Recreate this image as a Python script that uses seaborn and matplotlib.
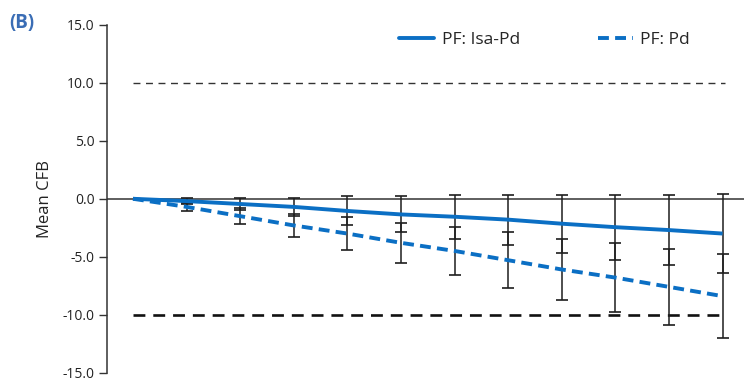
import numpy as np
import pandas as pd
import matplotlib
matplotlib.use("Agg")
import matplotlib.pyplot as plt
import seaborn as sns
from matplotlib.lines import Line2D

# Visit index along the x axis (0 = baseline)
visits = list(range(12))

# Mean change from baseline per arm
isa_pd_mean = [0.0, -0.2, -0.45, -0.7, -1.05, -1.35, -1.55, -1.8, -2.15, -2.45, -2.7, -3.0]
pd_mean = [0.0, -0.7, -1.5, -2.3, -3.0, -3.8, -4.5, -5.3, -6.1, -6.8, -7.6, -8.4]

# Error bar half-widths per arm
isa_pd_err = [0.0, 0.25, 0.5, 0.8, 1.25, 1.55, 1.9, 2.15, 2.5, 2.8, 3.0, 3.4]
pd_err = [0.0, 0.35, 0.7, 1.0, 1.4, 1.7, 2.1, 2.4, 2.6, 3.0, 3.3, 3.6]

series_names = ["PF: Isa-Pd", "PF: Pd"]
y_ticks = [15.0, 10.0, 5.0, 0.0, -5.0, -10.0, -15.0]
ref_lines = [10.0, -10.0]

df = pd.DataFrame({
    "visit": visits * 2,
    "cfb": isa_pd_mean + pd_mean,
    "err": isa_pd_err + pd_err,
    "arm": [series_names[0]] * len(visits) + [series_names[1]] * len(visits),
})

sns.set_theme(style="white")
plt.rcParams["font.family"] = ["Open Sans", "DejaVu Sans"]

blue = "#0b6fc4"
fig = plt.figure(figsize=(7.44, 3.83), dpi=100)
ax = fig.add_axes([0.1438, 0.027, 0.8562, 0.908])

# reference lines and zero line
ax.axhline(0, color="#333333", lw=1.1, zorder=1)
ax.plot([0, 11.05], [ref_lines[0]] * 2, color="#333333", lw=1.0,
        dashes=(5, 4), zorder=1)
ax.plot([0, 11.05], [ref_lines[1]] * 2, color="#111111", lw=1.9,
        dashes=(4.5, 3), zorder=1)

# error bars for both arms
for arm in series_names:
    sub = df[(df["arm"] == arm) & (df["visit"] > 0)]
    ax.errorbar(sub["visit"], sub["cfb"], yerr=sub["err"], fmt="none",
                ecolor="#1e1e1e", elinewidth=1.1, capsize=4, capthick=1.2,
                zorder=2)

sns.lineplot(data=df, x="visit", y="cfb", hue="arm", style="arm",
             palette=[blue, blue], dashes=[(1, 0), (2.8, 1.6)],
             linewidth=2.8, ax=ax, legend=False, zorder=3)

ax.set_xlim(-0.485, 11.4)
ax.set_ylim(-15, 15)
ax.set_yticks(y_ticks)
ax.set_yticklabels([f"{v:.1f}" for v in y_ticks], fontsize=10, color="#222222")
ax.set_xticks([])
ax.set_xlabel("")
ax.set_ylabel("Mean CFB", fontsize=12, color="#222222", labelpad=7)
ax.tick_params(axis="y", direction="out", length=6, width=1.0, color="#333333",
               left=True, pad=3)
for side in ["top", "right", "bottom"]:
    ax.spines[side].set_visible(False)
ax.spines["left"].set_color("#333333")
ax.spines["left"].set_linewidth(1.1)

handles = [
    Line2D([], [], color=blue, lw=2.8),
    Line2D([], [], color=blue, lw=2.8, dashes=(2.8, 1.6)),
]
fig.legend(handles, series_names, loc="center", bbox_to_anchor=(0.732, 0.896),
           ncol=2, frameon=False, fontsize=12.5, handlelength=2.0,
           columnspacing=4.5, handletextpad=0.45)

fig.text(0.012, 0.94, "(B)", color="#3a6db5", fontsize=13.5, fontweight="bold",
         ha="left", va="center")

fig.savefig("out.png", dpi=100)
